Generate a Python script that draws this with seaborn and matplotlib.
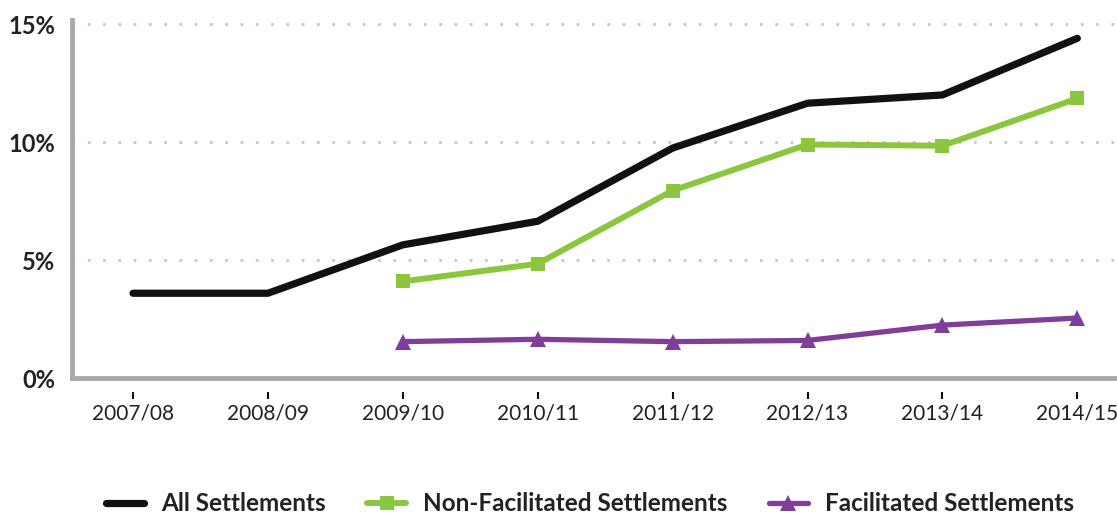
import numpy as np
import pandas as pd
import seaborn as sns
import matplotlib
matplotlib.use("Agg")
import matplotlib.pyplot as plt
from matplotlib.lines import Line2D

years = ["2007/08", "2008/09", "2009/10", "2010/11", "2011/12", "2012/13", "2013/14", "2014/15"]
all_settlements = [3.6, 3.6, 5.65, 6.65, 9.75, 11.65, 12.0, 14.4]
non_facilitated = [np.nan, np.nan, 4.1, 4.85, 7.95, 9.9, 9.85, 11.85]
facilitated = [np.nan, np.nan, 1.55, 1.65, 1.55, 1.6, 2.25, 2.55]
y_ticks = [0, 5, 10, 15]
y_tick_labels = ["0%", "5%", "10%", "15%"]

sns.set_theme(style="white")
plt.rcParams["font.family"] = ["Lato", "DejaVu Sans"]

fig = plt.figure(figsize=(11.17, 5.16), dpi=100)
ax = fig.add_axes([0.0645, 0.267, 0.9355, 0.694])

# spines first (set_position resets tick properties)
for s in ["top", "right"]:
    ax.spines[s].set_visible(False)
ax.spines["left"].set_color("#a7a9ac")
ax.spines["left"].set_linewidth(3.5)
ax.spines["bottom"].set_position(("outward", 10))
ax.spines["bottom"].set_visible(False)

x = np.arange(len(years))
df = pd.DataFrame({"x": x, "all": all_settlements, "non": non_facilitated, "fac": facilitated})

black = "#111111"
green = "#8cc63f"
purple = "#7f3f98"

sns.lineplot(data=df.dropna(subset=["all"]), x="x", y="all", ax=ax, color=black,
             lw=5.2, solid_capstyle="round", solid_joinstyle="miter")
d = df.dropna(subset=["non"])
sns.lineplot(data=d, x="x", y="non", ax=ax, color=green, lw=4.3,
             marker="s", markersize=10, markeredgewidth=0)
d = df.dropna(subset=["fac"])
sns.lineplot(data=d, x="x", y="fac", ax=ax, color=purple, lw=3.8,
             marker="^", markersize=12, markeredgewidth=0)

ax.set_xlim(-0.452, 7.294)
ax.set_ylim(0, 15.17)
ax.set_xticks(x)
ax.set_xticklabels(years)
ax.set_yticks(y_ticks)
ax.set_yticklabels(y_tick_labels, fontweight="bold")
ax.set_xlabel("")
ax.set_ylabel("")

for yv in y_ticks[1:]:
    ax.axhline(yv, color="#c8c8c8", lw=2, ls=(0, (1, 4.5)), zorder=0)

ax.axhline(0, color="#a7a9ac", lw=3.5, clip_on=False, zorder=1)

ax.tick_params(axis="x", bottom=True, length=5, width=1.5, color="#111111", pad=3,
               labelsize=15, labelcolor="#222222")
ax.tick_params(axis="y", left=False, length=0, pad=12, labelsize=17, labelcolor="#222222")

handles = [
    Line2D([], [], color=black, lw=5.2),
    Line2D([], [], color=green, lw=4.3, marker="s", markersize=10, markeredgewidth=0),
    Line2D([], [], color=purple, lw=3.8, marker="^", markersize=12, markeredgewidth=0),
]
labels = ["All Settlements", "Non-Facilitated Settlements", "Facilitated Settlements"]
leg = fig.legend(handles, labels, loc="center", bbox_to_anchor=(0.528, 0.024), ncol=3,
                 frameon=False, handlelength=1.6, columnspacing=1.7, handletextpad=0.7,
                 borderpad=0, prop={"size": 17.5, "weight": "bold"})
for t in leg.get_texts():
    t.set_color("#222222")

fig.savefig("out.png", dpi=100)
